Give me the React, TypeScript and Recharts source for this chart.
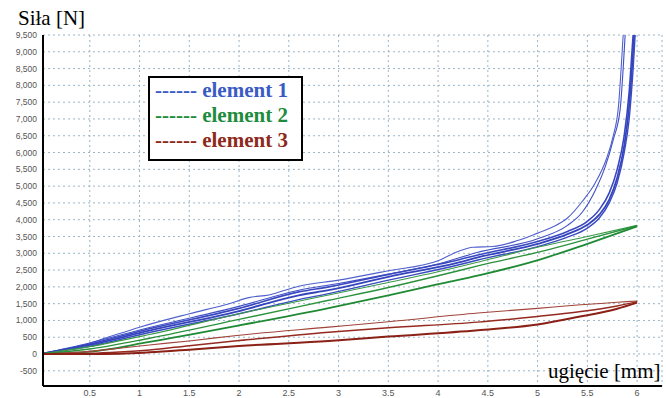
import React from "react";
import { LineChart, Line, XAxis, YAxis, CartesianGrid } from "recharts";

if (typeof document !== "undefined") document.body.style.margin = "0";

// x ticks (mm) and y ticks (N)
const xTicks = [0.5, 1, 1.5, 2, 2.5, 3, 3.5, 4, 4.5, 5, 5.5, 6];
const yTicks = [-500, 0, 500, 1000, 1500, 2000, 2500, 3000, 3500, 4000, 4500, 5000, 5500, 6000, 6500, 7000, 7500, 8000, 8500, 9000, 9500];

// element 1 (blue) curves
const blue1X = [0, 0.3, 0.6, 1.0, 1.5, 1.9, 2.1, 2.3, 2.6, 3.0, 3.5, 4.0, 4.2, 4.35, 4.55, 4.8, 5.0, 5.15, 5.3, 5.45, 5.58, 5.69, 5.76, 5.81, 5.86, 5.9];
const blue1Y = [0, 150, 420, 800, 1200, 1500, 1680, 1760, 2020, 2200, 2480, 2780, 3050, 3180, 3200, 3380, 3600, 3780, 4050, 4550, 5100, 5800, 6500, 7300, 9500, 11500];
const blue2X = [0, 0.5, 1.1, 2.0, 2.6, 3.0, 3.5, 4.0, 4.4, 5.0, 5.3, 5.45, 5.58, 5.68, 5.76, 5.83, 5.88, 5.92];
const blue2Y = [0, 330, 790, 1420, 1900, 2100, 2380, 2680, 3030, 3430, 3830, 4230, 4880, 5580, 6380, 7300, 9500, 11500];
const blue3X = [0, 0.5, 1.1, 2.0, 2.6, 2.9, 3.5, 4.2, 4.4, 5.0, 5.3, 5.5, 5.62, 5.72, 5.8, 5.87, 5.92, 5.96, 6.0];
const blue3Y = [0, 300, 750, 1360, 1850, 2000, 2370, 2800, 2950, 3350, 3650, 3950, 4300, 4800, 5500, 6500, 7800, 9500, 11000];
const blue4X = [0, 0.5, 1.1, 2.0, 2.6, 2.9, 3.5, 4.2, 4.4, 5.0, 5.3, 5.5, 5.62, 5.72, 5.8, 5.87, 5.92, 5.96, 6.0];
const blue4Y = [0, 270, 700, 1280, 1750, 1900, 2300, 2720, 2880, 3280, 3570, 3850, 4150, 4600, 5250, 6200, 7400, 9000, 11000];
const blue5X = [0, 0.5, 1.1, 2.0, 2.6, 2.9, 3.5, 4.2, 4.4, 5.0, 5.3, 5.5, 5.62, 5.72, 5.8, 5.87, 5.92, 5.96, 6.0];
const blue5Y = [0, 230, 640, 1200, 1620, 1800, 2200, 2650, 2800, 3200, 3480, 3750, 4050, 4500, 5100, 6000, 7000, 8500, 10500];

// element 2 (green) curves
const greenX = [0, 0.5, 1.1, 2.0, 2.9, 3.5, 4.0, 4.42, 5.03, 5.5, 6.0];
const green1Y = [0, 220, 580, 1200, 1760, 2130, 2450, 2750, 3200, 3500, 3830];
const green2Y = [0, 150, 470, 1030, 1600, 1980, 2330, 2640, 3050, 3420, 3820];
const green3Y = [0, 70, 360, 850, 1370, 1750, 2080, 2350, 2820, 3280, 3800];

// element 3 (red) curves
const redX = [0, 0.5, 0.8, 1.1, 1.5, 2.0, 2.9, 3.5, 4.4, 5.0, 5.4, 5.8, 6.0];
const red1Y = [0, 80, 170, 270, 390, 560, 800, 960, 1220, 1360, 1460, 1540, 1580];
const red2Y = [0, 20, 60, 120, 250, 400, 650, 780, 950, 1120, 1250, 1430, 1560];
const red3Y = [0, 0, 10, 50, 130, 240, 390, 520, 710, 880, 1100, 1350, 1530];

const zip = (xs: number[], ys: number[]) => xs.map((x, i) => ({ x, y: ys[i] }));

const curves = [
  { data: zip(blue1X, blue1Y), color: "#5060cc", w: 1.1 },
  { data: zip(blue2X, blue2Y), color: "#4050c4", w: 1.1 },
  { data: zip(blue3X, blue3Y), color: "#3a48c0", w: 1.6 },
  { data: zip(blue4X, blue4Y), color: "#3444bc", w: 1.8 },
  { data: zip(blue5X, blue5Y), color: "#3a4ac2", w: 1.4 },
  { data: zip(greenX, green1Y), color: "#3a9a48", w: 1.1 },
  { data: zip(greenX, green2Y), color: "#2a923c", w: 1.4 },
  { data: zip(greenX, green3Y), color: "#1f8a34", w: 1.8 },
  { data: zip(redX, red1Y), color: "#a0443a", w: 1.1 },
  { data: zip(redX, red2Y), color: "#952a20", w: 1.5 },
  { data: zip(redX, red3Y), color: "#8a2016", w: 2 },
];

const legendItems = [
  { label: "------ element 1", color: "#3a5bc4" },
  { label: "------ element 2", color: "#1e8c3c" },
  { label: "------ element 3", color: "#8e2a1c" },
];

const fmt = (v: number) => v.toLocaleString("en-US");

export default function App() {
  return (
    <div style={{ position: "relative", width: 666, height: 398, background: "#fff", overflow: "hidden" }}>
      <LineChart width={666} height={398} margin={{ top: 35, right: 4, left: 0, bottom: 0 }}>
        <CartesianGrid stroke="#9bb5c8" strokeDasharray="2 3" />
        <XAxis
          type="number"
          dataKey="x"
          domain={[0.03, 6.25]}
          allowDataOverflow
          ticks={xTicks}
          height={12}
          tickSize={0}
          tickMargin={4}
          tick={{ fontSize: 9, fill: "#555", fontFamily: "Arial, Liberation Sans, sans-serif" }}
          axisLine={{ stroke: "#000", strokeWidth: 2 }}
          tickLine={false}
          interval={0}
        />
        <YAxis
          type="number"
          domain={[-952, 9500]}
          allowDataOverflow
          ticks={yTicks}
          width={43}
          tickSize={0}
          tickMargin={6}
          tickFormatter={fmt}
          tick={{ fontSize: 8.5, fill: "#555", fontFamily: "Arial, Liberation Sans, sans-serif" }}
          axisLine={{ stroke: "#000", strokeWidth: 2 }}
          tickLine={false}
          interval={0}
        />
        {curves.map((c, i) => (
          <Line
            key={i}
            data={c.data}
            dataKey="y"
            type="monotone"
            stroke={c.color}
            strokeWidth={c.w}
            dot={false}
            isAnimationActive={false}
          />
        ))}
      </LineChart>
      <div style={{ position: "absolute", left: 18, top: 8, fontFamily: "Liberation Serif, Times New Roman, serif", fontSize: 21, lineHeight: 1, color: "#000" }}>
        Siła [N]
      </div>
      <div style={{ position: "absolute", left: 548, top: 361, fontFamily: "Liberation Serif, Times New Roman, serif", fontSize: 21, lineHeight: 1, color: "#000" }}>
        ugięcie [mm]
      </div>
      <div
        style={{
          position: "absolute",
          left: 148,
          top: 76,
          width: 146,
          height: 81,
          border: "2px solid #000",
          background: "#fff",
          paddingLeft: 5,
          boxSizing: "content-box",
        }}
      >
        {legendItems.map((it) => (
          <div
            key={it.label}
            style={{
              fontFamily: "Liberation Serif, Times New Roman, serif",
              fontWeight: "bold",
              fontSize: 21,
              lineHeight: "25px",
              color: it.color,
              whiteSpace: "nowrap",
            }}
          >
            {it.label}
          </div>
        ))}
      </div>
    </div>
  );
}
